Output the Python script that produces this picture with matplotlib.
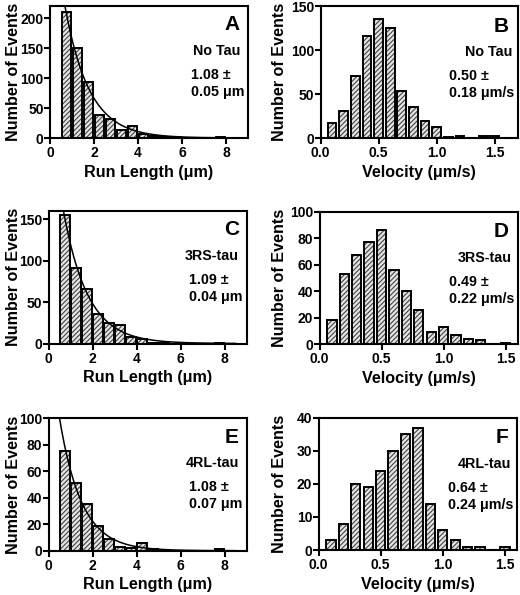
import matplotlib
matplotlib.use("Agg")
import matplotlib.pyplot as plt
import numpy as np

plt.rcParams['font.family'] = ['Liberation Sans', 'DejaVu Sans']
plt.rcParams['font.weight'] = 'bold'
plt.rcParams['axes.labelweight'] = 'bold'
plt.rcParams['hatch.linewidth'] = 0.8

# run length histograms (bin centres in um)
runBins = [0.75, 1.25, 1.75, 2.25, 2.75, 3.25, 3.75, 4.25, 4.75, 5.25, 5.75, 6.25, 6.75, 7.25, 7.75, 8.25]
runNoTau = [210, 150, 94, 39, 31, 14, 20, 7, 3, 1, 1, 0.5, 0, 0, 2, 0]
run3RS = [155, 91, 66, 36, 25, 22, 8, 5, 1, 0.5, 0, 0, 0, 0, 1, 0]
run4RL = [75, 51, 35, 19, 9, 3, 2, 6, 1, 0.5, 0, 0, 0, 0, 1, 0]

# velocity histograms (bin centres in um/s)
velBins = [0.1, 0.2, 0.3, 0.4, 0.5, 0.6, 0.7, 0.8, 0.9, 1.0, 1.1, 1.2, 1.3, 1.4, 1.5]
velNoTau = [17, 31, 71, 116, 135, 125, 53, 35, 19, 12, 1, 2, 0, 2, 2]
vel3RS = [18, 53, 67, 77, 86, 56, 40, 26, 9, 13, 7, 4, 3, 0, 1]
vel4RL = [3, 8, 20, 19, 24, 30, 35, 37, 14, 6, 3, 1, 1, 0, 1]

# exponential fits: amplitude, decay length
fitNoTau = (408, 1.1)
fit3RS = (297, 1.1)
fit4RL = (165, 1.0)

W, H = 520, 595


def makeAxes(fig, l, t, r, b, labelX):
	ax = fig.add_axes([l / W, 1 - b / H, (r - l) / W, (b - t) / H])
	# put the y label at a fixed pixel position
	ax.yaxis.set_label_coords((labelX - l) / (r - l), 0.5)
	return ax


def styleAxes(ax):
	for s in ax.spines.values():
		s.set_linewidth(1.5)
	ax.tick_params(width=1.5, length=4, labelsize=10, pad=2)
	ax.tick_params(axis='y', pad=0.5)
	for lab in ax.get_xticklabels() + ax.get_yticklabels():
		lab.set_fontweight('bold')


def drawBars(ax, x, y, width):
	ax.bar(x, y, width, color='#e4e4e4', edgecolor='#444444', hatch='///////', linewidth=0, zorder=2)
	ax.bar(x, y, width, fill=False, edgecolor='black', linewidth=1.4, zorder=3)


def runPanel(ax, data, fit, ymax, yticks, letter, name, mean, err):
	drawBars(ax, runBins, data, 0.42)
	xs = np.linspace(0.5, 8.5, 300)
	ax.plot(xs, fit[0] * np.exp(-xs / fit[1]), color='black', linewidth=1.1, zorder=4)
	ax.set_xlim(0, 9)
	ax.set_ylim(0, ymax)
	ax.set_xticks([0, 2, 4, 6, 8])
	ax.set_yticks(yticks)
	ax.set_xlabel("Run Length (\u03bcm)", fontsize=11.6, labelpad=3)
	ax.set_ylabel("Number of Events", fontsize=11.6)
	styleAxes(ax)
	ax.text(0.96, 0.93, letter, transform=ax.transAxes, ha='right', va='top', fontsize=15, fontweight='bold')
	ax.text(0.96, 0.66, name, transform=ax.transAxes, ha='right', va='center', fontsize=10.3, fontweight='bold')
	ax.text(0.71, 0.48, mean + " \u00b1", transform=ax.transAxes, ha='left', va='center', fontsize=10.3, fontweight='bold')
	ax.text(0.71, 0.35, err + " \u03bcm", transform=ax.transAxes, ha='left', va='center', fontsize=10.3, fontweight='bold')


def velPanel(ax, data, xmax, ymax, yticks, letter, name, mean, err):
	drawBars(ax, velBins, data, 0.075)
	ax.set_xlim(0, xmax)
	ax.set_ylim(0, ymax)
	ax.set_xticks([0.0, 0.5, 1.0, 1.5])
	ax.set_xticklabels(["0.0", "0.5", "1.0", "1.5"])
	ax.set_yticks(yticks)
	ax.set_xlabel("Velocity (\u03bcm/s)", fontsize=11.6, labelpad=3)
	ax.set_ylabel("Number of Events", fontsize=11.6)
	styleAxes(ax)
	ax.text(0.955, 0.92, letter, transform=ax.transAxes, ha='right', va='top', fontsize=15, fontweight='bold')
	ax.text(0.97, 0.65, name, transform=ax.transAxes, ha='right', va='center', fontsize=10.3, fontweight='bold')
	ax.text(0.65, 0.47, mean + " \u00b1", transform=ax.transAxes, ha='left', va='center', fontsize=10.3, fontweight='bold')
	ax.text(0.65, 0.34, err + " \u03bcm/s", transform=ax.transAxes, ha='left', va='center', fontsize=10.3, fontweight='bold')


fig = plt.figure(figsize=(5.2, 5.95), dpi=100)

axA = makeAxes(fig, 50, 6, 248, 138, 21)
runPanel(axA, runNoTau, fitNoTau, 220, [0, 50, 100, 150, 200], "A", "No Tau", "1.08", "0.05")
axB = makeAxes(fig, 320.5, 6, 518, 138, 287)
velPanel(axB, velNoTau, 1.7, 150, [0, 50, 100, 150], "B", "No Tau", "0.50", "0.18")

axC = makeAxes(fig, 48.5, 211, 246.7, 343.5, 21)
runPanel(axC, run3RS, fit3RS, 160, [0, 50, 100, 150], "C", "3RS-tau", "1.09", "0.04")
axD = makeAxes(fig, 319.5, 211.5, 518, 344, 287)
velPanel(axD, vel3RS, 1.6, 100, [0, 20, 40, 60, 80, 100], "D", "3RS-tau", "0.49", "0.22")

axE = makeAxes(fig, 48.5, 418.3, 246.7, 550.7, 21)
runPanel(axE, run4RL, fit4RL, 100, [0, 20, 40, 60, 80, 100], "E", "4RL-tau", "1.08", "0.07")
axF = makeAxes(fig, 318.5, 417.7, 517.3, 550, 287)
velPanel(axF, vel4RL, 1.6, 40, [0, 10, 20, 30, 40], "F", "4RL-tau", "0.64", "0.24")

fig.savefig("out.png", dpi=100)
